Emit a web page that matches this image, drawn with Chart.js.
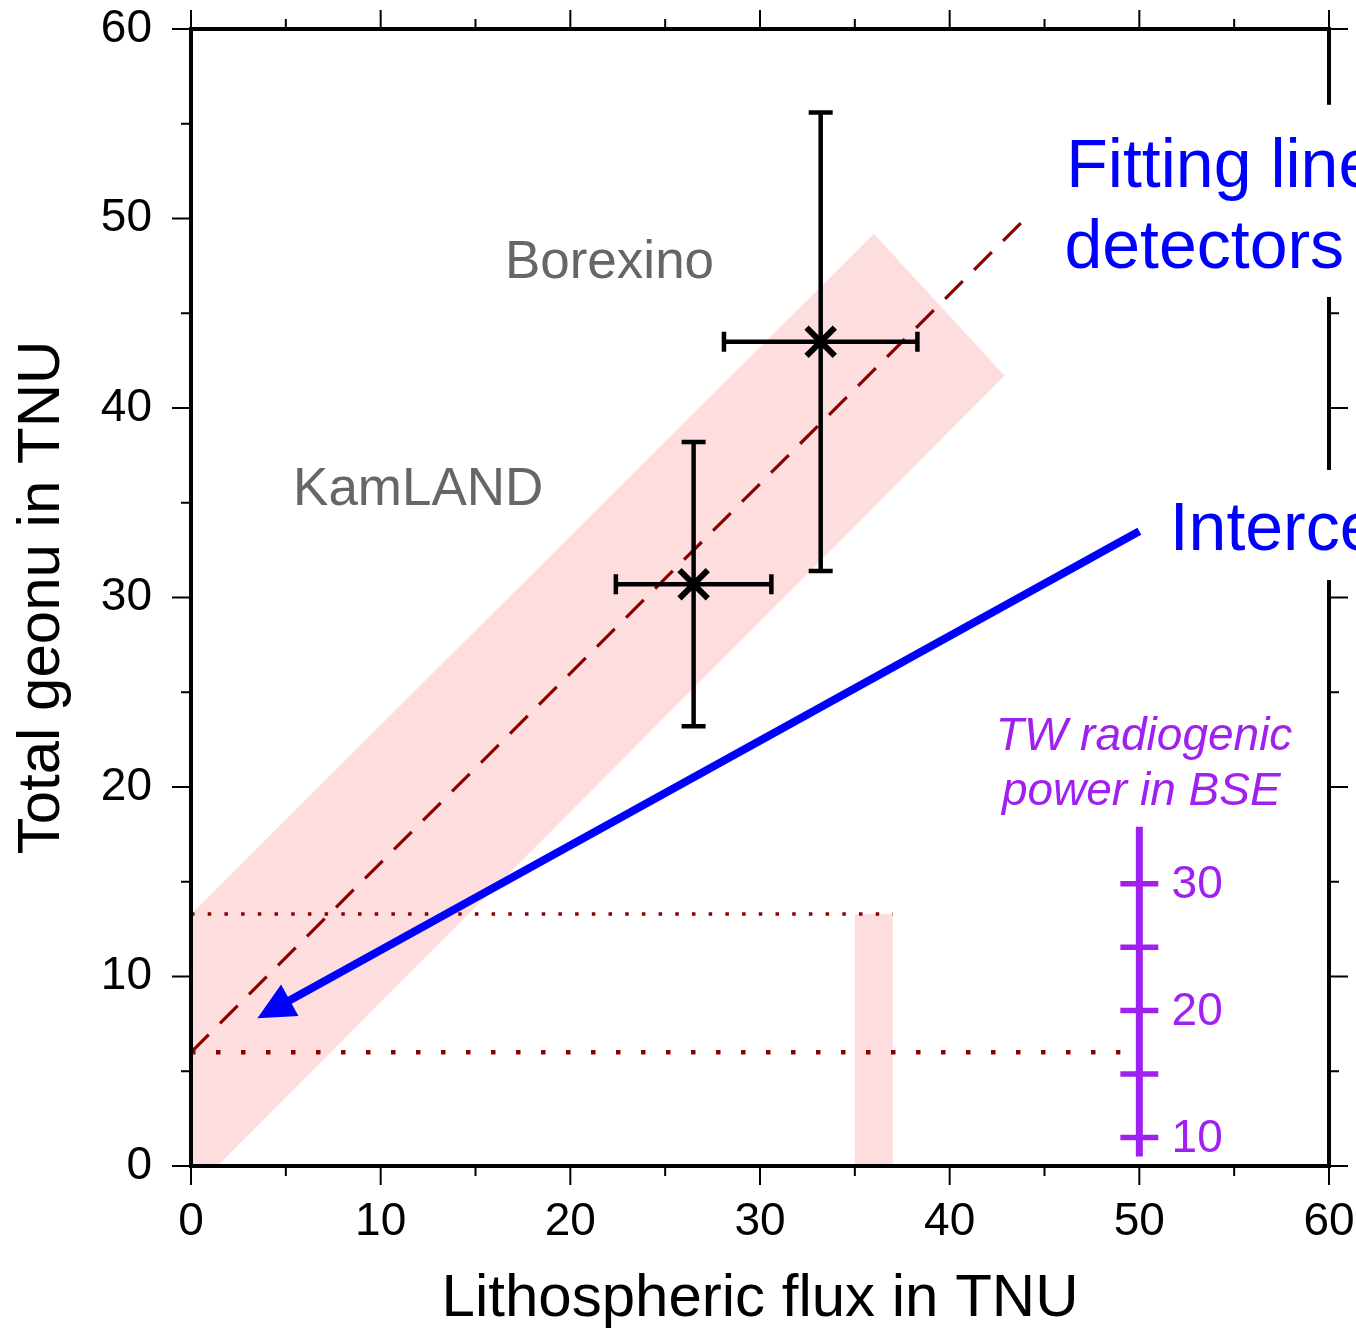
<!DOCTYPE html>
<html>
<head>
<meta charset="utf-8">
<script src="https://cdn.jsdelivr.net/npm/chart.js@4.4.1/dist/chart.umd.min.js"></script>
<style>
  html, body { margin: 0; padding: 0; background: #fff; }
</style>
</head>
<body>
<canvas id="geoChart" width="1356" height="1329"></canvas>
<script>
const FONT = "'Liberation Sans', Arial, Helvetica, sans-serif";
const PINK = "rgb(253,221,221)";
const DARKRED = "#8b0000";
const PURPLE = "#a020f0";

// axis ticks
const majorTicks = [0, 10, 20, 30, 40, 50, 60];
const minorTicks = [5, 15, 25, 35, 45, 55];

// detector results: lithospheric flux (x) vs total geonu (y), with error ranges
const detectors = ["KamLAND", "Borexino"];
const litho = [26.5, 33.2];
const lithoLow = [22.4, 28.1];
const lithoHigh = [30.6, 38.3];
const geonu = [30.7, 43.5];
const geonuLow = [23.2, 31.4];
const geonuHigh = [38.2, 55.6];

// fitting line through the detectors
const fitX = [0, 44];
const fitY = [6, 50];

// uncertainty band of the fit (polygon corners)
const bandX = [0, 0, 36, 42.9, 1.4];
const bandY = [0, 13.3, 49.2, 41.7, 0];

// intercept range on the flux axis
const barX = [35, 37];
const barY = [0, 13.3];

// dotted guides
const upperGuideX = [0, 37];
const upperGuideY = [13.3, 13.3];
const lowerGuideX = [0, 49];
const lowerGuideY = [6, 6];

// intercept arrow (start, tip)
const arrowX = [50, 3.5];
const arrowY = [33.5, 7.8];

// TW radiogenic power scale at x = 50
const twValues = [10, 15, 20, 25, 30];
const twPos = [1.5, 4.85, 8.2, 11.55, 14.9];
const twRange = [0.5, 17.9];
const twX = 50;

function pts(xs, ys) {
  return xs.map((v, i) => ({ x: v, y: ys[i] }));
}

// keep the plot box fixed: no extra room for overhanging tick labels
function noScalePadding(scale) {
  scale.paddingTop = 0;
  scale.paddingBottom = 0;
  scale.paddingLeft = 0;
  scale.paddingRight = 0;
}

const overlay = {
  id: "overlay",
  beforeDatasetsDraw(chart) {
    const { ctx, scales: { x, y } } = chart;
    ctx.save();
    ctx.fillStyle = PINK;
    ctx.beginPath();
    bandX.forEach((v, i) => {
      const px = x.getPixelForValue(v), py = y.getPixelForValue(bandY[i]);
      if (i === 0) ctx.moveTo(px, py); else ctx.lineTo(px, py);
    });
    ctx.closePath();
    ctx.fill();
    const bx0 = x.getPixelForValue(barX[0]), bx1 = x.getPixelForValue(barX[1]);
    const by0 = y.getPixelForValue(barY[0]), by1 = y.getPixelForValue(barY[1]);
    ctx.fillRect(bx0, by1, bx1 - bx0, by0 - by1);
    ctx.restore();
  },
  afterDatasetsDraw(chart) {
    const { ctx, scales: { x, y } } = chart;
    ctx.save();

    // error bars
    ctx.strokeStyle = "#000";
    ctx.lineWidth = 4.5;
    detectors.forEach((name, i) => {
      const cx = x.getPixelForValue(litho[i]), cy = y.getPixelForValue(geonu[i]);
      const xl = x.getPixelForValue(lithoLow[i]), xh = x.getPixelForValue(lithoHigh[i]);
      const yl = y.getPixelForValue(geonuLow[i]), yh = y.getPixelForValue(geonuHigh[i]);
      ctx.beginPath();
      ctx.moveTo(xl, cy); ctx.lineTo(xh, cy);
      ctx.moveTo(xl, cy - 10); ctx.lineTo(xl, cy + 10);
      ctx.moveTo(xh, cy - 10); ctx.lineTo(xh, cy + 10);
      ctx.moveTo(cx, yl); ctx.lineTo(cx, yh);
      ctx.moveTo(cx - 12, yl); ctx.lineTo(cx + 12, yl);
      ctx.moveTo(cx - 12, yh); ctx.lineTo(cx + 12, yh);
      ctx.stroke();
    });

    // intercept arrow
    const sx = x.getPixelForValue(arrowX[0]), sy = y.getPixelForValue(arrowY[0]);
    const tx = x.getPixelForValue(arrowX[1]), ty = y.getPixelForValue(arrowY[1]);
    const len = Math.hypot(tx - sx, ty - sy);
    const ux = (tx - sx) / len, uy = (ty - sy) / len;
    const head = 37, half = 18;
    const bx = tx - ux * head, by = ty - uy * head;
    ctx.strokeStyle = "#0000ff";
    ctx.fillStyle = "#0000ff";
    ctx.lineWidth = 8;
    ctx.beginPath();
    ctx.moveTo(sx, sy);
    ctx.lineTo(bx + ux * 2, by + uy * 2);
    ctx.stroke();
    ctx.beginPath();
    ctx.moveTo(tx, ty);
    ctx.lineTo(bx - uy * half, by + ux * half);
    ctx.lineTo(bx + uy * half, by - ux * half);
    ctx.closePath();
    ctx.fill();

    // TW radiogenic power scale
    const px = x.getPixelForValue(twX);
    ctx.strokeStyle = PURPLE;
    ctx.lineWidth = 7;
    ctx.beginPath();
    ctx.moveTo(px, y.getPixelForValue(twRange[0]));
    ctx.lineTo(px, y.getPixelForValue(twRange[1]));
    ctx.stroke();
    ctx.lineWidth = 5.5;
    ctx.fillStyle = PURPLE;
    ctx.font = "46px " + FONT;
    ctx.textAlign = "left";
    ctx.textBaseline = "middle";
    twValues.forEach((v, i) => {
      const py = y.getPixelForValue(twPos[i]);
      ctx.beginPath();
      ctx.moveTo(x.getPixelForValue(49), py);
      ctx.lineTo(x.getPixelForValue(51), py);
      ctx.stroke();
      if (v % 10 === 0) ctx.fillText(String(v), x.getPixelForValue(51.7), py + 2);
    });
    ctx.font = "italic 46px " + FONT;
    ctx.textAlign = "center";
    ctx.textBaseline = "alphabetic";
    ctx.fillText("TW radiogenic", x.getPixelForValue(50.25), y.getPixelForValue(21.95));
    ctx.fillText("power in BSE", x.getPixelForValue(50.1), y.getPixelForValue(19.05));

    // detector names
    ctx.fillStyle = "#666666";
    ctx.font = "53px " + FONT;
    ctx.textAlign = "left";
    ctx.fillText("Borexino", x.getPixelForValue(16.55), y.getPixelForValue(46.86));
    ctx.fillText("KamLAND", x.getPixelForValue(5.38), y.getPixelForValue(34.9));
    ctx.restore();
  },
  afterDraw(chart) {
    const { ctx, chartArea: a, scales: { x, y } } = chart;
    ctx.save();

    // frame
    ctx.strokeStyle = "#000";
    ctx.lineWidth = 4;
    ctx.strokeRect(a.left, a.top, a.right - a.left, a.bottom - a.top);

    // outward ticks on all four sides
    ctx.lineWidth = 2;
    ctx.beginPath();
    const tick = (v, len) => {
      const px = x.getPixelForValue(v), py = y.getPixelForValue(v);
      ctx.moveTo(px, a.bottom); ctx.lineTo(px, a.bottom + len);
      ctx.moveTo(px, a.top); ctx.lineTo(px, a.top - len);
      ctx.moveTo(a.left, py); ctx.lineTo(a.left - len, py);
      ctx.moveTo(a.right, py); ctx.lineTo(a.right + len, py);
    };
    majorTicks.forEach(v => tick(v, 19));
    minorTicks.forEach(v => tick(v, 10));
    ctx.stroke();

    // blue annotations on white backgrounds
    const wx0 = x.getPixelForValue(45.7);
    ctx.fillStyle = "#fff";
    ctx.fillRect(wx0, y.getPixelForValue(56.0), chart.width - wx0, y.getPixelForValue(45.86) - y.getPixelForValue(56.0));
    const wx1 = x.getPixelForValue(51.2);
    ctx.fillRect(wx1, y.getPixelForValue(36.73), chart.width - wx1, y.getPixelForValue(30.92) - y.getPixelForValue(36.73));
    ctx.fillStyle = "#0000ff";
    ctx.font = "68px " + FONT;
    ctx.textAlign = "left";
    ctx.textBaseline = "alphabetic";
    ctx.fillText("Fitting line", x.getPixelForValue(46.15), y.getPixelForValue(51.66));
    ctx.fillText("detectors", x.getPixelForValue(46.05), y.getPixelForValue(47.39));
    ctx.fillText("Intercept", x.getPixelForValue(51.6), y.getPixelForValue(32.5));
    ctx.restore();
  }
};

new Chart(document.getElementById("geoChart"), {
  type: "scatter",
  data: {
    datasets: [
      {
        label: "Detectors",
        data: pts(litho, geonu),
        pointStyle: "crossRot",
        pointRadius: 20,
        pointBorderWidth: 6,
        pointBorderColor: "#000",
        pointBackgroundColor: "#000",
        showLine: false
      },
      {
        type: "line",
        label: "Fit",
        data: pts(fitX, fitY),
        borderColor: DARKRED,
        borderWidth: 3.2,
        borderDash: [25, 16],
        pointRadius: 0
      },
      {
        type: "line",
        label: "Upper guide",
        data: pts(upperGuideX, upperGuideY),
        borderColor: DARKRED,
        borderWidth: 3.5,
        borderDash: [3.5, 13.2],
        pointRadius: 0
      },
      {
        type: "line",
        label: "Lower guide",
        data: pts(lowerGuideX, lowerGuideY),
        borderColor: DARKRED,
        borderWidth: 4.5,
        borderDash: [4.5, 20.5],
        pointRadius: 0
      }
    ]
  },
  options: {
    responsive: false,
    animation: false,
    layout: { padding: { top: 29, right: 27, left: 0, bottom: 0 } },
    plugins: { legend: { display: false }, tooltip: { enabled: false } },
    scales: {
      x: {
        type: "linear",
        min: 0,
        max: 60,
        afterFit(scale) { scale.height = 163; noScalePadding(scale); },
        afterBuildTicks(scale) { scale.ticks = majorTicks.map(v => ({ value: v })); },
        ticks: { color: "#000", font: { family: FONT, size: 46 }, padding: 29, maxRotation: 0, autoSkip: false },
        grid: { display: false, drawTicks: false },
        border: { display: false },
        title: {
          display: true,
          text: "Lithospheric flux in TNU",
          color: "#000",
          font: { family: FONT, size: 60, lineHeight: 1 },
          padding: { top: 0, bottom: 0 }
        }
      },
      y: {
        type: "linear",
        min: 0,
        max: 60,
        afterFit(scale) { scale.width = 191; noScalePadding(scale); },
        afterBuildTicks(scale) { scale.ticks = majorTicks.map(v => ({ value: v })); },
        ticks: { color: "#000", font: { family: FONT, size: 46 }, padding: 39, autoSkip: false },
        grid: { display: false, drawTicks: false },
        border: { display: false },
        title: {
          display: true,
          text: "Total geonu in TNU",
          color: "#000",
          font: { family: FONT, size: 60, lineHeight: 1 },
          padding: { top: 12, bottom: 0 }
        }
      }
    }
  },
  plugins: [overlay]
});
</script>
</body>
</html>
